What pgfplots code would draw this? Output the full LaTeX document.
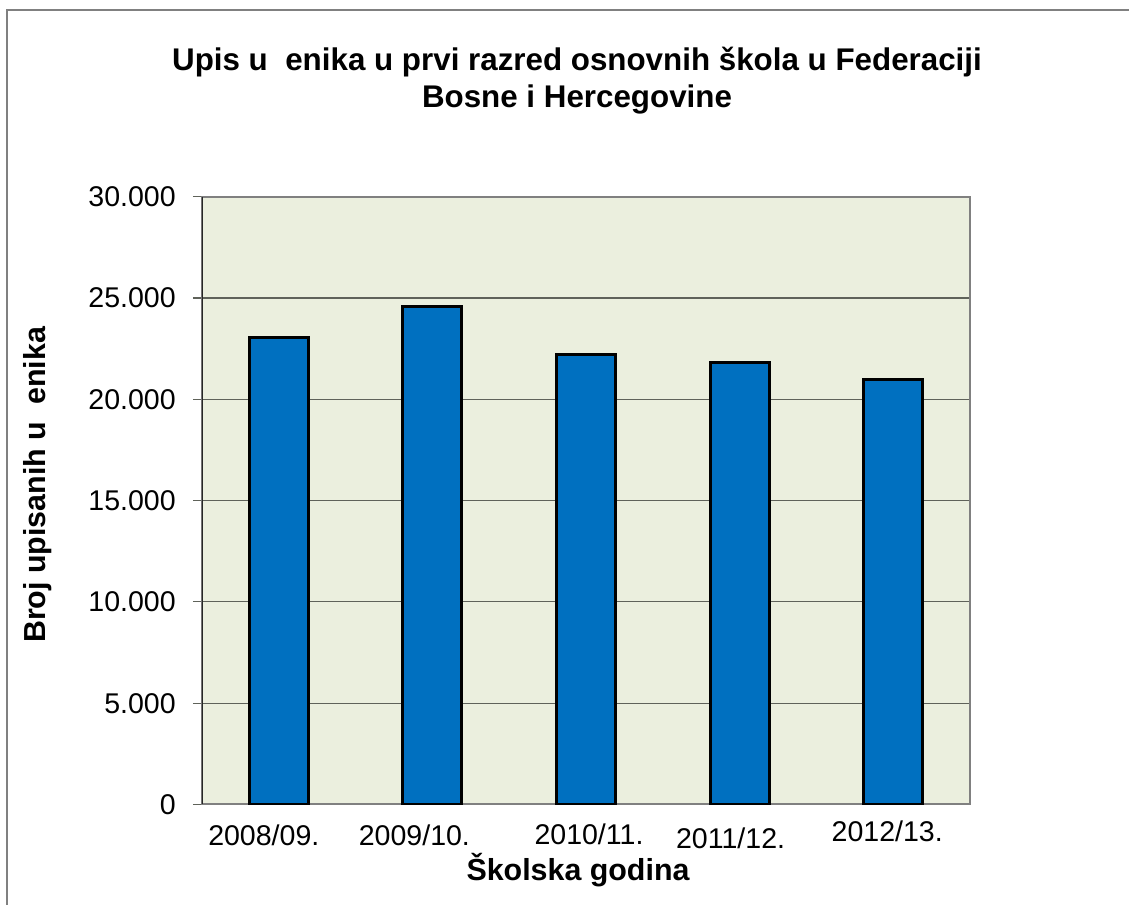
\documentclass[border=0pt]{standalone}
\usepackage{fontspec}
\setmainfont{Liberation Sans}
\usepackage{pgfplots}
\pgfplotsset{compat=1.18}

\definecolor{barblue}{RGB}{0,112,192}
\definecolor{plotbg}{RGB}{235,239,222}
\definecolor{gridgray}{RGB}{95,98,90}
\definecolor{framegray}{RGB}{128,128,128}

% shift one tick label by dx (right) and dy (up), keeping its box
\newcommand{\lab}[3]{\raisebox{#2}[\height][\depth]{\makebox[0pt]{\hspace*{#1}\hspace*{#1}#3}}}

\begin{document}
\begin{tikzpicture}
\useasboundingbox (0,0) rectangle (846.75pt,678.75pt);
\begin{axis}[
  at={(151.5pt,75.375pt)}, anchor=south west,
  scale only axis, width=576pt, height=455.85pt,
  xmin=-0.5, xmax=4.5, ymin=0, ymax=30000,
  scaled y ticks=false,
  xtick={0,1,2,3,4},
  xticklabels={\lab{-11.25pt}{0pt}{2008/09.},
               \lab{-13.5pt}{0pt}{2009/10.},
               \lab{2.25pt}{0.75pt}{2010/11.},
               \lab{-6.75pt}{-2.25pt}{2011/12.},
               \lab{-4.5pt}{3pt}{2012/13.}},
  ytick={0,5000,10000,15000,20000,25000,30000},
  yticklabels={0,5.000,10.000,15.000,20.000,25.000,30.000},
  tick align=outside, major tick length=6.75pt,
  ytick pos=left,
  xtick style={draw=none},
  ytick style={gridgray, line width=0.9pt},
  ymajorgrids, grid style={gridgray, line width=0.9pt},
  axis line style={framegray, line width=1.5pt},
  axis background/.style={fill=plotbg},
  ticklabel style={font=\fontsize{21.4pt}{24pt}\selectfont},
  yticklabel style={anchor=east, inner sep=0pt, xshift=-12.75pt},
  xticklabel style={anchor=center, inner sep=0pt, yshift=-16.15pt},
  title={Upis u\ \ enika u prvi razred osnovnih škola u Federaciji\\Bosne i Hercegovine},
  title style={at={(axis description cs:0.4883,1.1772)}, anchor=center, align=center,
    font=\fontsize{23.5pt}{27.75pt}\selectfont\bfseries},
  xlabel={Školska godina},
  xlabel style={at={(axis description cs:0.4896,-0.1077)}, anchor=center,
    font=\fontsize{22.8pt}{25pt}\selectfont\bfseries},
  ylabel={Broj upisanih u\ \ enika},
  ylabel style={at={(axis description cs:-0.2135,0.5257)}, anchor=center,
    font=\fontsize{22.8pt}{25pt}\selectfont\bfseries},
]
\addplot[ybar, bar width=44.25pt, fill=barblue, draw=black, line width=2.25pt]
  coordinates {(0,23030) (1,24580) (2,22220) (3,21830) (4,21000)};
\draw[black!85, line width=1.5pt] (rel axis cs:0,0) -- (rel axis cs:0,1);
\end{axis}
\draw[framegray, line width=1.5pt] (4.875pt,-20pt) -- (4.875pt,670.875pt) -- (900pt,670.875pt);
\end{tikzpicture}
\end{document}
